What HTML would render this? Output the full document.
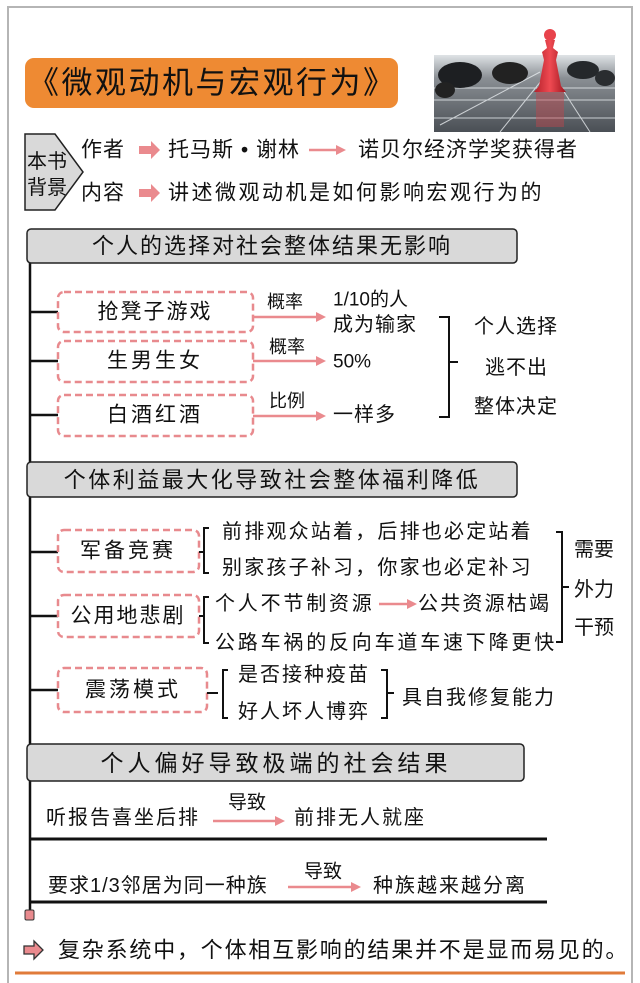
<!DOCTYPE html>
<html><head><meta charset="utf-8"><style>
html,body{margin:0;padding:0;background:#fff;}
svg{display:block;}
text{font-family:"Liberation Sans","Noto Sans CJK SC",sans-serif;fill:#111;dominant-baseline:central;}
</style></head><body>
<svg width="640" height="983" viewBox="0 0 640 983" xmlns="http://www.w3.org/2000/svg">
<defs>
<linearGradient id="bd" x1="0" y1="0" x2="0" y2="1"><stop offset="0" stop-color="#dfe3e6"/><stop offset="0.3" stop-color="#8a8f94"/><stop offset="1" stop-color="#4a4f55"/></linearGradient>
<linearGradient id="pw" x1="0" y1="0" x2="1" y2="0"><stop offset="0" stop-color="#b3202a"/><stop offset="0.5" stop-color="#ef4a52"/><stop offset="1" stop-color="#a0161f"/></linearGradient>
</defs>
<rect x="8" y="7" width="624" height="990" fill="none" stroke="#b5b5b5" stroke-width="2"/>
<!-- title -->
<rect x="25" y="58" width="373" height="50" rx="9" fill="#ee8a33"/>
<text x="28" y="83" font-size="31" letter-spacing="2.5">《微观动机与宏观行为》</text>
<!-- image -->
<rect x="434" y="55" width="181" height="77" fill="url(#bd)"/>
<g stroke="#e8ecef" stroke-width="1" opacity="0.8">
<line x1="434" y1="100" x2="615" y2="100"/><line x1="434" y1="118" x2="615" y2="118"/>
<line x1="434" y1="88" x2="615" y2="88"/>
<line x1="550" y1="70" x2="500" y2="132"/><line x1="550" y1="70" x2="590" y2="132"/><line x1="540" y1="72" x2="440" y2="125"/>
</g>
<ellipse cx="460" cy="75" rx="22" ry="13" fill="#1d1f22"/>
<ellipse cx="445" cy="90" rx="10" ry="8" fill="#222"/>
<ellipse cx="510" cy="73" rx="18" ry="11" fill="#222"/>
<ellipse cx="583" cy="70" rx="16" ry="9" fill="#25282b"/>
<ellipse cx="605" cy="78" rx="10" ry="8" fill="#2a2d30"/>
<circle cx="550" cy="35" r="6" fill="#e8434b"/>
<path d="M545 40 L555 40 L553 48 L558 52 L556 60 L561 86 L566 92 L534 92 L539 86 L544 60 L542 52 L547 48 Z" fill="url(#pw)"/>
<rect x="536" y="92" width="28" height="35" fill="#c2454c" opacity="0.45"/>
<!-- 本书背景 -->
<path d="M25 134 L55 134 L83 172 L55 210 L25 210 Z" fill="#d9d9d9" stroke="#222" stroke-width="1.5"/>
<text x="27" y="162" font-size="20">本书</text>
<text x="27" y="188" font-size="20">背景</text>
<text x="81" y="150" font-size="21" letter-spacing="1">作者</text>
<path d="M139 146 L151 146 L151 141 L160 150 L151 159 L151 154 L139 154 Z" fill="#ea8a8e"/>
<text x="168" y="150" font-size="21" letter-spacing="1">托马斯 • 谢林</text>
<line x1="309" y1="150" x2="338" y2="150" stroke="#ea8a8e" stroke-width="2.5"/>
<path d="M336 145 L346 150 L336 155 Z" fill="#ea8a8e"/>
<text x="358" y="150" font-size="21" letter-spacing="1">诺贝尔经济学奖获得者</text>
<text x="81" y="193" font-size="21" letter-spacing="1">内容</text>
<path d="M139 189 L151 189 L151 184 L160 193 L151 202 L151 197 L139 197 Z" fill="#ea8a8e"/>
<text x="168" y="193" font-size="21" letter-spacing="2.5">讲述微观动机是如何影响宏观行为的</text>
<!-- main vertical line -->
<line x1="30" y1="262" x2="30" y2="910" stroke="#111" stroke-width="2.5"/>
<rect x="25" y="910" width="9" height="10" rx="1.5" fill="#e88a8e" stroke="#333" stroke-width="1"/>
<!-- header 1 -->
<rect x="27" y="229" width="490" height="34" rx="4" fill="#d9d9d9" stroke="#222" stroke-width="1.5"/>
<text x="272" y="246" font-size="22" letter-spacing="2" text-anchor="middle">个人的选择对社会整体结果无影响</text>
<g stroke="#111" stroke-width="2.5">
<line x1="30" y1="312" x2="58" y2="312"/><line x1="30" y1="361" x2="58" y2="361"/><line x1="30" y1="415" x2="58" y2="415"/>
</g>
<g fill="#fff" stroke="#e88a8e" stroke-width="2.5" stroke-dasharray="7,4">
<rect x="58" y="292" width="195" height="40" rx="6"/>
<rect x="58" y="341" width="195" height="41" rx="6"/>
<rect x="58" y="395" width="195" height="41" rx="6"/>
</g>
<text x="155" y="312" font-size="21" letter-spacing="2" text-anchor="middle">抢凳子游戏</text>
<text x="155" y="361" font-size="21" letter-spacing="3" text-anchor="middle">生男生女</text>
<text x="155" y="415" font-size="21" letter-spacing="3" text-anchor="middle">白酒红酒</text>
<g stroke="#ea8a8e" stroke-width="2.5">
<line x1="253" y1="317" x2="318" y2="317"/><line x1="253" y1="361" x2="318" y2="361"/><line x1="253" y1="416" x2="318" y2="416"/>
</g>
<g fill="#ea8a8e"><path d="M316 312 L326 317 L316 322Z"/><path d="M316 356 L326 361 L316 366Z"/><path d="M316 411 L326 416 L316 421Z"/></g>
<text x="267" y="302" font-size="18">概率</text>
<text x="269" y="347" font-size="18">概率</text>
<text x="269" y="401" font-size="18">比例</text>
<text x="333" y="300" font-size="19">1/10的人</text>
<text x="333" y="325" font-size="20" letter-spacing="1">成为输家</text>
<text x="333" y="362" font-size="19">50%</text>
<text x="333" y="415" font-size="20" letter-spacing="1">一样多</text>
<path d="M439 317 L449 317 L449 417 L439 417 M449 362 L458 362" fill="none" stroke="#111" stroke-width="2"/>
<text x="474" y="327" font-size="20" letter-spacing="1">个人选择</text>
<text x="485" y="368" font-size="20" letter-spacing="1">逃不出</text>
<text x="474" y="407" font-size="20" letter-spacing="1">整体决定</text>
<!-- header 2 -->
<rect x="27" y="462" width="490" height="35" rx="4" fill="#d9d9d9" stroke="#222" stroke-width="1.5"/>
<text x="272" y="480" font-size="22" letter-spacing="2.5" text-anchor="middle">个体利益最大化导致社会整体福利降低</text>
<g stroke="#111" stroke-width="2.5">
<line x1="30" y1="552" x2="58" y2="552"/><line x1="30" y1="616" x2="58" y2="616"/><line x1="30" y1="690" x2="58" y2="690"/>
</g>
<g fill="#fff" stroke="#e88a8e" stroke-width="2.5" stroke-dasharray="7,4">
<rect x="58" y="530" width="141" height="42" rx="6"/>
<rect x="58" y="595" width="141" height="42" rx="6"/>
<rect x="58" y="668" width="149" height="44" rx="6"/>
</g>
<text x="128" y="551" font-size="21" letter-spacing="3" text-anchor="middle">军备竞赛</text>
<text x="128" y="616" font-size="21" letter-spacing="2" text-anchor="middle">公用地悲剧</text>
<text x="133" y="690" font-size="21" letter-spacing="3" text-anchor="middle">震荡模式</text>
<g fill="none" stroke="#111" stroke-width="2">
<path d="M199 552 L204 552 M209 528 L204 528 L204 573 L209 573"/>
<path d="M199 616 L204 616 M209 597 L204 597 L204 643 L209 643"/>
<path d="M207 693 L218 693 M228 670 L223 670 L223 718 L228 718"/>
<path d="M556 532 L562 532 L562 642 L556 642 M562 587 L569 587"/>
<path d="M381 670 L387 670 L387 718 L381 718 M387 693 L394 693"/>
</g>
<text x="222" y="532" font-size="20" letter-spacing="2.2">前排观众站着，后排也必定站着</text>
<text x="222" y="568" font-size="20" letter-spacing="2.2">别家孩子补习，你家也必定补习</text>
<text x="215" y="604" font-size="20" letter-spacing="2.8">个人不节制资源</text>
<line x1="379" y1="604" x2="409" y2="604" stroke="#ea8a8e" stroke-width="2.5"/>
<path d="M407 599 L417 604 L407 609Z" fill="#ea8a8e"/>
<text x="418" y="604" font-size="20" letter-spacing="2.2">公共资源枯竭</text>
<text x="215" y="643" font-size="20" letter-spacing="2.8">公路车祸的反向车道车速下降更快</text>
<text x="574" y="550" font-size="20">需要</text>
<text x="574" y="590" font-size="20">外力</text>
<text x="574" y="628" font-size="20">干预</text>
<text x="238" y="675" font-size="20" letter-spacing="2">是否接种疫苗</text>
<text x="238" y="712" font-size="20" letter-spacing="2">好人坏人博弈</text>
<text x="402" y="698" font-size="20" letter-spacing="2">具自我修复能力</text>
<!-- header 3 -->
<rect x="27" y="744" width="497" height="37" rx="4" fill="#d9d9d9" stroke="#222" stroke-width="1.5"/>
<text x="276" y="763" font-size="23" letter-spacing="4" text-anchor="middle">个人偏好导致极端的社会结果</text>
<text x="46" y="818" font-size="20" letter-spacing="2">听报告喜坐后排</text>
<text x="228" y="803" font-size="19">导致</text>
<line x1="213" y1="821" x2="277" y2="821" stroke="#ea8a8e" stroke-width="2.5"/>
<path d="M275 816 L285 821 L275 826Z" fill="#ea8a8e"/>
<text x="294" y="818" font-size="20" letter-spacing="2">前排无人就座</text>
<line x1="30" y1="839" x2="547" y2="839" stroke="#111" stroke-width="3"/>
<text x="48" y="886" font-size="20" letter-spacing="1">要求1/3邻居为同一种族</text>
<text x="304" y="872" font-size="19">导致</text>
<line x1="288" y1="887" x2="353" y2="887" stroke="#ea8a8e" stroke-width="2.5"/>
<path d="M351 882 L361 887 L351 892Z" fill="#ea8a8e"/>
<text x="373" y="886" font-size="20" letter-spacing="2">种族越来越分离</text>
<line x1="30" y1="902" x2="547" y2="902" stroke="#111" stroke-width="3"/>
<!-- bottom -->
<path d="M24 946 L34 946 L34 941 L43 950 L34 959 L34 954 L24 954 Z" fill="#ea8a8e" stroke="#333" stroke-width="1.3"/>
<text x="58" y="950" font-size="22" letter-spacing="1.8">复杂系统中，个体相互影响的结果并不是显而易见的。</text>
<line x1="15" y1="973" x2="625" y2="973" stroke="#e07b3a" stroke-width="3"/>
</svg>
</body></html>
